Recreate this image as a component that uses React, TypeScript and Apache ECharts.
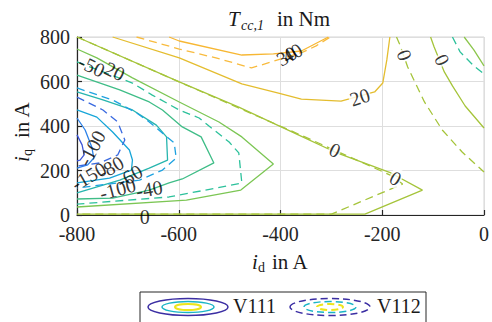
import React, { useEffect, useRef } from 'react';
import * as echarts from 'echarts';

// axis ranges / ticks
const xRange = [-800, 0];
const yRange = [0, 800];
const tickStep = 200;

// V111 contour lines (solid) — [i_d, i_q]
const v111_p40 = [[-619, 800], [-599, 782], [-476, 719], [-414, 724], [-359, 737], [-306, 800]];
const v111_p20 = [[-730, 800], [-599, 706], [-476, 589], [-404, 548], [-359, 521], [-281, 512], [-215, 553], [-199, 593], [-191, 697], [-185, 800]];
const v111_0a = [[-800, 800], [-599, 598], [-482, 485], [-365, 360], [-293, 283], [-183, 189], [-121, 112], [-234, 4], [-800, 4]];
const v111_0b = [[-105, 800], [-98, 755], [-78, 643], [-62, 580], [-37, 490], [0, 391]];
const v111_m20a = [[-800, 746], [-761, 706], [-691, 616], [-599, 508], [-521, 418], [-476, 351], [-414, 229], [-478, 112], [-585, 67], [-800, 36]];
const v111_m20b = [[-39, 800], [-20, 742], [0, 670]];
const v111_m40 = [[-800, 629], [-716, 562], [-658, 508], [-632, 472], [-593, 396], [-556, 351], [-531, 234], [-593, 162], [-619, 144], [-658, 112], [-730, 76], [-800, 72]];
const v111_m60 = [[-800, 553], [-749, 517], [-691, 472], [-644, 404], [-624, 351], [-622, 247], [-658, 211], [-716, 157], [-800, 99]];
const v111_m80 = [[-800, 472], [-761, 440], [-730, 373], [-697, 292], [-691, 247], [-693, 202], [-736, 166], [-800, 144]];
const v111_m100 = [[-800, 436], [-784, 382], [-771, 306], [-767, 256], [-779, 225], [-800, 211]];
const v111_m150 = [[-800, 360], [-790, 315], [-786, 270], [-794, 247], [-800, 243]];

// V112 contour lines (dashed)
const v112_p40 = [[-683, 800], [-599, 746], [-527, 706], [-457, 661], [-418, 688], [-355, 733], [-330, 760], [-302, 800]];
const v112_0a = [[-800, 800], [-599, 598], [-365, 364], [-180, 175], [-160, 139], [-300, 4], [-800, 4]];
const v112_0b = [[-172, 800], [-166, 769], [-150, 665], [-117, 508], [-82, 382], [-43, 283], [0, 193]];
const v112_m20a = [[-800, 688], [-691, 593], [-652, 539], [-599, 472], [-560, 436], [-501, 328], [-482, 279], [-476, 144], [-527, 121], [-619, 81], [-800, 49]];
const v112_m20b = [[-62, 800], [-47, 733], [-20, 670], [0, 634]];
const v112_m60 = [[-800, 571], [-730, 517], [-683, 459], [-658, 418], [-609, 324], [-605, 256], [-632, 202], [-677, 157], [-800, 121]];
const v112_m100 = [[-800, 530], [-749, 472], [-720, 418], [-706, 337], [-720, 270], [-755, 234], [-800, 220]];

// contour labels: [i_d, i_q, text, rotation(deg), breaks line]
const contourLabels: [number, number, string, number, boolean][] = [
  [-771, 670, '-50', -25, false],
  [-726, 647, '20', -25, false],
  [-388, 715, '30', 30, false],
  [-377, 728, '40', 30, false],
  [-244, 530, '20', 18, true],
  [-156, 719, '0', -70, true],
  [-82, 697, '0', -65, true],
  [-293, 292, '0', -25, true],
  [-174, 166, '0', -30, true],
  [-667, -8, '0', 0, false],
  [-771, 301, '-100', 62, false],
  [-777, 175, '-150', 30, false],
  [-734, 214, '-80', 30, false],
  [-720, 117, '-100', 15, false],
  [-697, 175, '-60', 30, false],
  [-658, 117, '-40', 10, false],
];

const legendNames = ['V111', 'V112'];

const lines = [
  { d: v111_p40, c: '#f7b733', dash: false },
  { d: v111_p20, c: '#e4bd2f', dash: false },
  { d: v111_0a, c: '#a5c43a', dash: false },
  { d: v111_0b, c: '#a5c43a', dash: false },
  { d: v111_m20a, c: '#7cc654', dash: false },
  { d: v111_m20b, c: '#8cc64c', dash: false },
  { d: v111_m40, c: '#3fbd87', dash: false },
  { d: v111_m60, c: '#27b5ae', dash: false },
  { d: v111_m80, c: '#17a6d8', dash: false },
  { d: v111_m100, c: '#2d82e8', dash: false },
  { d: v111_m150, c: '#3d55d8', dash: false },
  { d: v112_p40, c: '#f8bb3e', dash: true },
  { d: v112_0a, c: '#a5c43a', dash: true },
  { d: v112_0b, c: '#a5c43a', dash: true },
  { d: v112_m20a, c: '#2cc19b', dash: true },
  { d: v112_m20b, c: '#2cc19b', dash: true },
  { d: v112_m60, c: '#1ea2e0', dash: true },
  { d: v112_m100, c: '#3a6ae0', dash: true },
];

const FAMILY = 'Liberation Serif';
const FONT = '"Liberation Serif", serif';

export default function App() {
  const ref = useRef<HTMLDivElement>(null);
  useEffect(() => {
    if (!ref.current) return;
    const chart = echarts.init(ref.current, undefined, { renderer: 'svg' });
    const series: any[] = lines.map((l) => ({
      type: 'line',
      data: l.d,
      showSymbol: false,
      symbol: 'none',
      silent: true,
      lineStyle: { color: l.c, width: 1.3, type: l.dash ? [8, 5] : 'solid' },
      z: 3,
    }));
    series.push({
      type: 'scatter',
      silent: true,
      clip: false,
      symbolSize: 1,
      itemStyle: { color: 'rgba(0,0,0,0)' },
      z: 5,
      label: {
        show: true,
        position: 'inside',
        formatter: '{b}',
        fontFamily: FAMILY,
        fontSize: 20,
        color: '#000',
      },
      data: contourLabels.map(([x, y, t, r, b]) => ({
        name: t,
        value: [x, y],
        label: b ? { rotate: r, backgroundColor: '#fff', padding: [0, 1] } : { rotate: r },
      })),
    });

    const txt = (text: string, x: number, y: number, size: number, italic = false, align = 'left', extra: any = {}) => ({
      type: 'text',
      x,
      y,
      silent: true,
      style: {
        text,
        font: `${italic ? 'italic ' : ''}${size}px ${FONT}`,
        fill: '#1a1a1a',
        textAlign: align,
        textVerticalAlign: 'middle',
      },
      ...extra,
    });

    const axisCommon = {
      type: 'value',
      interval: tickStep,
      axisLine: { show: true, onZero: false, lineStyle: { color: '#262626', width: 1.2 } },
      axisTick: { show: true, inside: true, length: 5, lineStyle: { color: '#262626', width: 1.2 } },
      splitLine: { show: true, lineStyle: { color: '#dedede', width: 1 } },
    };

    chart.setOption({
      animation: false,
      grid: { left: 77, right: 5, top: 37, bottom: 107, show: true, borderColor: '#d4d4d4', borderWidth: 1, backgroundColor: '#fff' },
      xAxis: { ...axisCommon, min: xRange[0], max: xRange[1], axisLabel: { fontFamily: FAMILY, fontSize: 20, color: '#262626', margin: 9 } },
      yAxis: { ...axisCommon, min: yRange[0], max: yRange[1], axisLabel: { fontFamily: FAMILY, fontSize: 20, color: '#262626', margin: 7 } },
      series,
      graphic: [
        // title
        txt('T', 228, 19, 21, true),
        txt('cc,1', 241, 25, 14, true),
        txt('in Nm', 277, 19, 21),
        // x axis name
        txt('i', 252, 262, 21, true),
        txt('d', 258, 267, 14),
        txt('in A', 272, 262, 21),
        // y axis name (rotated)
        {
          type: 'group',
          x: 22,
          y: 162,
          rotation: Math.PI / 2,
          children: [
            txt('i', 0, 0, 21, true),
            txt('q', 6, 5, 14),
            txt('in A', 24, 0, 21),
          ],
        },
        // legend
        { type: 'rect', shape: { x: 140, y: 292, width: 286, height: 40 }, style: { fill: '#fff', stroke: '#262626', lineWidth: 1 }, silent: true },
        { type: 'ellipse', shape: { cx: 188, cy: 307, rx: 40, ry: 8.5 }, style: { fill: 'none', stroke: '#3b2ea3', lineWidth: 1.5 }, silent: true },
        { type: 'ellipse', shape: { cx: 188, cy: 307, rx: 26, ry: 5.5 }, style: { fill: 'none', stroke: '#1bb5c6', lineWidth: 1.5 }, silent: true },
        { type: 'ellipse', shape: { cx: 188, cy: 307, rx: 13, ry: 3 }, style: { fill: 'none', stroke: '#ede51a', lineWidth: 2 }, silent: true },
        txt(legendNames[0], 233, 306, 20),
        { type: 'ellipse', shape: { cx: 330, cy: 307, rx: 40, ry: 8.5 }, style: { fill: 'none', stroke: '#3b2ea3', lineWidth: 1.5, lineDash: [7, 4] }, silent: true },
        { type: 'ellipse', shape: { cx: 330, cy: 307, rx: 26, ry: 5.5 }, style: { fill: 'none', stroke: '#1bb5c6', lineWidth: 1.5, lineDash: [7, 4] }, silent: true },
        { type: 'ellipse', shape: { cx: 330, cy: 307, rx: 13, ry: 3 }, style: { fill: 'none', stroke: '#ede51a', lineWidth: 2, lineDash: [7, 4] }, silent: true },
        txt(legendNames[1], 377, 306, 20),
      ],
    });
    return () => chart.dispose();
  }, []);
  return <div ref={ref} style={{ position: 'fixed', left: 0, top: 0, width: 492, height: 322, background: '#fff' }} />;
}
